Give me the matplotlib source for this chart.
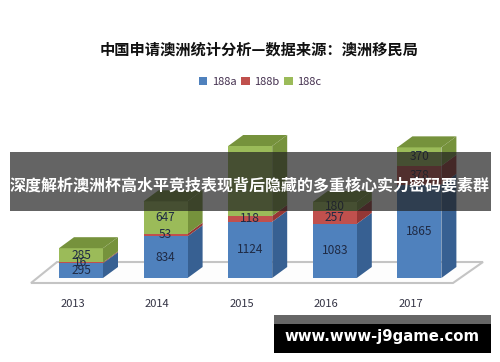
import matplotlib
matplotlib.use("Agg")
import matplotlib.pyplot as plt
import numpy as np
from matplotlib.patches import Rectangle

plt.rcParams['font.family'] = ['Noto Sans CJK SC', 'DejaVu Sans']

years = ['2013', '2014', '2015', '2016', '2017']
series_names = ['188a', '188b', '188c']
v188a = [295, 834, 1124, 1083, 1865]
v188b = [16, 53, 118, 257, 378]
v188c = [285, 647, 1398, 180, 370]
# 2015 188c has no readable label, it sits behind the band
c188c_labels = ['285', '647', '', '180', '370']

W, H = 500, 362
PX_X = 84.6      # pixels per category
PX_Y = 0.05      # pixels per unit
X0, Y0 = 81, 278 # pixel position of first category at value 0
BAR_W = 0.52
DX = 15 / PX_X   # 3d depth in data units
DY = 11 / PX_Y

front = ['#4F81BD', '#C0504D', '#9BBB59']
side = ['#376092', '#953735', '#76923C']
top = ['#4A76AC', '#A94542', '#76923C']

fig = plt.figure(figsize=(W / 100, H / 100), dpi=100)
ax = fig.add_axes([0, 0, 1, 1])
ax.set_xlim(-X0 / PX_X, (W - X0) / PX_X)
ax.set_ylim(-(H - Y0) / PX_Y, Y0 / PX_Y)
ax.axis('off')

#floor of the 3d chart
fx = (np.array([31, 57, 483, 453]) - X0) / PX_X
fy = (Y0 - np.array([283, 262, 262, 283])) / PX_Y
ax.fill(fx, fy, fc='#FDFDFD', ec='#C4C4C4', lw=1.5, zorder=1)

x = np.arange(len(years))
bottom = np.zeros(len(years))
handles = []
for i, vals in enumerate([v188a, v188b, v188c]):
    vals = np.array(vals)
    bars = ax.bar(x, vals, BAR_W, bottom=bottom, color=front[i], zorder=3, label=series_names[i])
    handles.append(bars)
    for xi, b, v in zip(x, bottom, vals):
        r = xi + BAR_W / 2
        ax.fill([r, r + DX, r + DX, r], [b, b + DY, b + v + DY, b + v], color=side[i], lw=0, zorder=2)
    bottom = bottom + vals

#top faces
for xi, t in zip(x, bottom):
    l, r = xi - BAR_W / 2, xi + BAR_W / 2
    ax.fill([l, r, r + DX, l + DX], [t, t, t + DY, t + DY], color=top[2], lw=0, zorder=3)

#value labels
label_sets = [[str(v) for v in v188a], [str(v) for v in v188b], c188c_labels]
bottom = np.zeros(len(years))
for i, vals in enumerate([v188a, v188b, v188c]):
    for xi, b, v, s in zip(x, bottom, vals, label_sets[i]):
        ax.text(xi, b + v / 2, s, ha='center', va='center', fontsize=8.6, color='#1F2A44', zorder=4)
    bottom = bottom + np.array(vals)

#category labels
for xi, y in zip(x, years):
    ax.text(xi - 0.1, -26 / PX_Y, y, ha='center', va='center', fontsize=8, color='#333344')

fig.text(259 / W, 1 - 50 / H, '中国申请澳洲统计分析—数据来源：澳洲移民局', ha='center', va='center',
         fontsize=11, fontweight='bold', color='#111111')

leg = ax.legend(handles=handles, loc='center', bbox_to_anchor=(260 / W, 1 - 82 / H), ncols=3, frameon=False,
                fontsize=8, handlelength=0.8, handleheight=0.8, handletextpad=0.4, columnspacing=0.4,
                labelcolor='#44304F')

#overlay band and watermark
fig.add_artist(Rectangle((10 / W, 1 - 211 / H), 481 / W, 59 / H, transform=fig.transFigure,
                         fc='#222222', alpha=0.7, lw=0, zorder=10))
fig.text(250 / W, 1 - 186 / H, '深度解析澳洲杯高水平竞技表现背后隐藏的多重核心实力密码要素群', ha='center', va='center',
         fontsize=11.5, fontweight='bold', color='white', zorder=11)
fig.add_artist(Rectangle((274 / W, 1 - 324 / H), 217 / W, 9 / H, transform=fig.transFigure,
                         fc='#666666', lw=0, zorder=10))
fig.add_artist(Rectangle((274 / W, 1 - 353 / H), 217 / W, 29 / H, transform=fig.transFigure,
                         fc='black', lw=0, zorder=10))
fig.text(382 / W, 1 - 337 / H, 'www.www-j9game.com', ha='center', va='center',
         fontsize=10.7, fontweight='bold', color='white', zorder=11, family=['DejaVu Sans'])

fig.savefig('out.png', dpi=100)
